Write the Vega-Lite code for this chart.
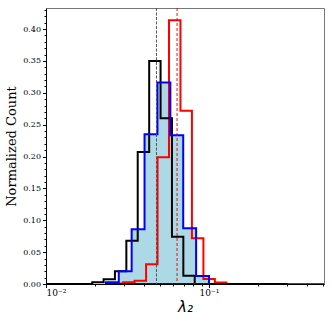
{
  "$schema": "https://vega.github.io/schema/vega-lite/v6.json",
  "width": 278,
  "height": 276,
  "autosize": "none",
  "padding": {"left": 46, "top": 8, "right": 8, "bottom": 37},
  "config": {
    "view": {"stroke": "#777", "strokeWidth": 1},
    "axis": {"grid": false, "domainColor": "#000", "tickColor": "#000", "labelColor": "#000", "titleColor": "#000", "labelFont": "DejaVu Serif", "titleFont": "DejaVu Serif", "labelFontSize": 8, "titleFontWeight": "normal"}
  },
  "datasets": {
    "hist": [
      {"s": "blue", "o": 0, "x": 0.02330, "y": 0},
      {"s": "blue", "o": 1, "x": 0.02330, "y": 0.0026},
      {"s": "blue", "o": 2, "x": 0.02796, "y": 0.020},
      {"s": "blue", "o": 3, "x": 0.03354, "y": 0.086},
      {"s": "blue", "o": 4, "x": 0.04024, "y": 0.235},
      {"s": "blue", "o": 5, "x": 0.04828, "y": 0.316},
      {"s": "blue", "o": 6, "x": 0.05794, "y": 0.2335},
      {"s": "blue", "o": 7, "x": 0.06950, "y": 0.0874},
      {"s": "blue", "o": 8, "x": 0.08340, "y": 0.0126},
      {"s": "blue", "o": 9, "x": 0.10005, "y": 0},
      {"s": "blue", "o": 10, "x": 0.02330, "y": 0},
      {"s": "black", "o": 0, "x": 0.0100, "y": 0},
      {"s": "black", "o": 1, "x": 0.01921, "y": 0},
      {"s": "black", "o": 2, "x": 0.01921, "y": 0.0027},
      {"s": "black", "o": 3, "x": 0.02256, "y": 0.0075},
      {"s": "black", "o": 4, "x": 0.02648, "y": 0.020},
      {"s": "black", "o": 5, "x": 0.03112, "y": 0.068},
      {"s": "black", "o": 6, "x": 0.03654, "y": 0.207},
      {"s": "black", "o": 7, "x": 0.04297, "y": 0.350},
      {"s": "black", "o": 8, "x": 0.05047, "y": 0.260},
      {"s": "black", "o": 9, "x": 0.05928, "y": 0.0743},
      {"s": "black", "o": 10, "x": 0.06962, "y": 0.013},
      {"s": "black", "o": 11, "x": 0.08176, "y": 0},
      {"s": "black", "o": 12, "x": 0.3034, "y": 0},
      {"s": "red", "o": 0, "x": 0.0253, "y": 0},
      {"s": "red", "o": 1, "x": 0.0253, "y": 0.0008},
      {"s": "red", "o": 2, "x": 0.02975, "y": 0.0026},
      {"s": "red", "o": 3, "x": 0.03497, "y": 0.005},
      {"s": "red", "o": 4, "x": 0.04112, "y": 0.031},
      {"s": "red", "o": 5, "x": 0.04835, "y": 0.199},
      {"s": "red", "o": 6, "x": 0.05685, "y": 0.4136},
      {"s": "red", "o": 7, "x": 0.06686, "y": 0.2717},
      {"s": "red", "o": 8, "x": 0.07860, "y": 0.0717},
      {"s": "red", "o": 9, "x": 0.09245, "y": 0.0079},
      {"s": "red", "o": 10, "x": 0.10871, "y": 0.0025},
      {"s": "red", "o": 11, "x": 0.12784, "y": 0},
      {"s": "red", "o": 12, "x": 0.508, "y": 0}
    ],
    "means": [
      {"s": "black", "x": 0.04763},
      {"s": "red", "x": 0.0637}
    ]
  },
  "resolve": {"axis": {"x": "independent", "y": "independent"}},
  "layer": [
    {
      "data": {"name": "hist"},
      "transform": [{"filter": "datum.s === 'blue' && datum.o >= 1 && datum.o <= 9"}],
      "mark": {"type": "area", "interpolate": "step-after", "color": "#add8e6", "clip": true},
      "encoding": {
        "x": {"field": "x", "type": "quantitative", "scale": {"type": "log", "domain": [0.01, 0.508], "nice": false},
          "axis": {"orient": "bottom", "values": [0.01, 0.1], "labelExpr": "datum.value < 0.05 ? '10⁻²' : '10⁻¹'", "labelFontSize": 9, "tickSize": 3.5, "labelPadding": 1, "title": "λ₂", "titleFont": "DejaVu Sans", "titleFontStyle": "italic", "titleFontSize": 15, "titlePadding": 2}},
        "y": {"field": "y", "type": "quantitative", "scale": {"domain": [0, 0.433], "nice": false},
          "axis": {"orient": "left", "values": [0, 0.05, 0.1, 0.15, 0.2, 0.25, 0.3, 0.35, 0.4], "format": ".2f", "tickSize": 3.5, "labelPadding": 2, "title": "Normalized Count", "titleFontSize": 13, "titlePadding": 4}}
      }
    },
    {
      "data": {"name": "hist"},
      "transform": [{"filter": "datum.s === 'red'"}],
      "mark": {"type": "line", "interpolate": "step-after", "color": "#ff0000", "strokeWidth": 2, "clip": true},
      "encoding": {
        "x": {"field": "x", "type": "quantitative", "scale": {"type": "log", "domain": [0.01, 0.508], "nice": false},
          "axis": {"orient": "bottom", "values": [0.02, 0.03, 0.04, 0.05, 0.06, 0.07, 0.08, 0.09, 0.2, 0.3, 0.4, 0.5], "labels": false, "domain": false, "tickSize": 2, "title": null}},
        "y": {"field": "y", "type": "quantitative", "scale": {"domain": [0, 0.433], "nice": false},
          "axis": {"orient": "left", "values": [0.01, 0.02, 0.03, 0.04, 0.06, 0.07, 0.08, 0.09, 0.11, 0.12, 0.13, 0.14, 0.16, 0.17, 0.18, 0.19, 0.21, 0.22, 0.23, 0.24, 0.26, 0.27, 0.28, 0.29, 0.31, 0.32, 0.33, 0.34, 0.36, 0.37, 0.38, 0.39, 0.41, 0.42, 0.43], "labels": false, "domain": false, "tickSize": 2, "title": null}},
        "order": {"field": "o", "type": "quantitative"}
      }
    },
    {
      "data": {"name": "hist"},
      "transform": [{"filter": "datum.s === 'black'"}],
      "mark": {"type": "line", "interpolate": "step-after", "color": "#000000", "strokeWidth": 2, "clip": true},
      "encoding": {
        "x": {"field": "x", "type": "quantitative", "scale": {"type": "log", "domain": [0.01, 0.508], "nice": false}, "axis": null},
        "y": {"field": "y", "type": "quantitative", "scale": {"domain": [0, 0.433], "nice": false}, "axis": null},
        "order": {"field": "o", "type": "quantitative"}
      }
    },
    {
      "data": {"name": "hist"},
      "transform": [{"filter": "datum.s === 'blue'"}],
      "mark": {"type": "line", "interpolate": "step-after", "color": "#0000ff", "strokeWidth": 2, "clip": true},
      "encoding": {
        "x": {"field": "x", "type": "quantitative", "scale": {"type": "log", "domain": [0.01, 0.508], "nice": false}, "axis": null},
        "y": {"field": "y", "type": "quantitative", "scale": {"domain": [0, 0.433], "nice": false}, "axis": null},
        "order": {"field": "o", "type": "quantitative"}
      }
    },
    {
      "data": {"name": "means"},
      "transform": [{"filter": "datum.s === 'black'"}],
      "mark": {"type": "rule", "color": "#555555", "strokeWidth": 1, "strokeDash": [3, 1.5]},
      "encoding": {
        "x": {"field": "x", "type": "quantitative", "scale": {"type": "log", "domain": [0.01, 0.508], "nice": false}, "axis": null}
      }
    },
    {
      "data": {"name": "means"},
      "transform": [{"filter": "datum.s === 'red'"}],
      "mark": {"type": "rule", "color": "#e00000", "strokeWidth": 0.9, "strokeDash": [3, 2]},
      "encoding": {
        "x": {"field": "x", "type": "quantitative", "scale": {"type": "log", "domain": [0.01, 0.508], "nice": false}, "axis": null}
      }
    }
  ]
}
